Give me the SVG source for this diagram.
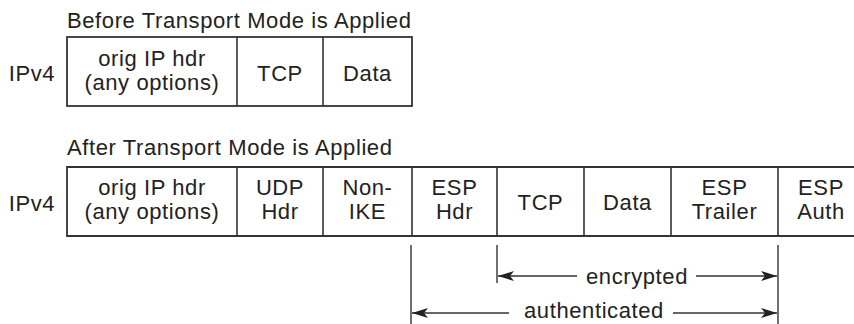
<svg xmlns="http://www.w3.org/2000/svg" width="854" height="324" viewBox="0 0 854 324">
<style>
text{font-family:"Liberation Sans",Arial,sans-serif;font-size:22px;letter-spacing:0.6px;fill:#222}
.c{text-anchor:middle}
.box{fill:#fff;stroke:#333;stroke-width:1.8}
.div{stroke:#333;stroke-width:1.6}
.ln{stroke:#333;stroke-width:1.4;fill:none}
</style>
<defs>
<marker id="ah" markerUnits="userSpaceOnUse" markerWidth="18" markerHeight="12" viewBox="0 -6 18 12" refX="16" refY="0" orient="auto-start-reverse">
<path d="M0,-5 L16,0 L0,5 L4,0 Z" fill="#222"/>
</marker>
</defs>
<rect width="854" height="324" fill="#fff"/>

<g id="title-before"><text x="67" y="28">Before Transport Mode is Applied</text></g>
<g id="ipv4-before"><text class="c" x="32" y="81">IPv4</text></g>
<g id="packet-before">
<rect class="box" x="67" y="37" width="345" height="69"/>
<line class="div" x1="237" y1="37" x2="237" y2="106"/>
<line class="div" x1="323" y1="37" x2="323" y2="106"/>
<text class="c" x="152" y="66">orig IP hdr</text>
<text class="c" x="152" y="90">(any options)</text>
<text class="c" x="280" y="81">TCP</text>
<text class="c" x="367.5" y="81">Data</text>
</g>

<g id="title-after"><text x="67" y="155">After Transport Mode is Applied</text></g>
<g id="ipv4-after"><text class="c" x="32" y="211">IPv4</text></g>
<g id="packet-after">
<path class="box" d="M856,167 H67 V236 H856"/>
<line class="div" x1="237" y1="167" x2="237" y2="236"/>
<line class="div" x1="323" y1="167" x2="323" y2="236"/>
<line class="div" x1="412" y1="167" x2="412" y2="236"/>
<line class="div" x1="497" y1="167" x2="497" y2="236"/>
<line class="div" x1="584" y1="167" x2="584" y2="236"/>
<line class="div" x1="671" y1="167" x2="671" y2="236"/>
<line class="div" x1="778" y1="167" x2="778" y2="236"/>
<text class="c" x="152" y="195">orig IP hdr</text>
<text class="c" x="152" y="219">(any options)</text>
<text class="c" x="280" y="195">UDP</text>
<text class="c" x="280" y="219">Hdr</text>
<text class="c" x="367.5" y="195">Non-</text>
<text class="c" x="367.5" y="219">IKE</text>
<text class="c" x="454.5" y="195">ESP</text>
<text class="c" x="454.5" y="219">Hdr</text>
<text class="c" x="540.5" y="210">TCP</text>
<text class="c" x="627.5" y="210">Data</text>
<text class="c" x="724.5" y="195">ESP</text>
<text class="c" x="724.5" y="219">Trailer</text>
<text class="c" x="821" y="195">ESP</text>
<text class="c" x="821" y="219">Auth</text>
</g>

<g id="connectors">
<line class="ln" x1="411" y1="245" x2="411" y2="324"/>
<line class="ln" x1="497" y1="245" x2="497" y2="283"/>
<line class="ln" x1="778" y1="245" x2="778" y2="324"/>
<line class="ln" x1="577" y1="276" x2="498" y2="276" marker-end="url(#ah)"/>
<line class="ln" x1="696" y1="276" x2="777" y2="276" marker-end="url(#ah)"/>
<line class="ln" x1="509" y1="313" x2="412" y2="313" marker-end="url(#ah)"/>
<line class="ln" x1="673" y1="313" x2="777" y2="313" marker-end="url(#ah)"/>
</g>
<g id="label-encrypted"><text class="c" x="637" y="284">encrypted</text></g>
<g id="label-authenticated"><text class="c" x="594" y="318">authenticated</text></g>
</svg>
